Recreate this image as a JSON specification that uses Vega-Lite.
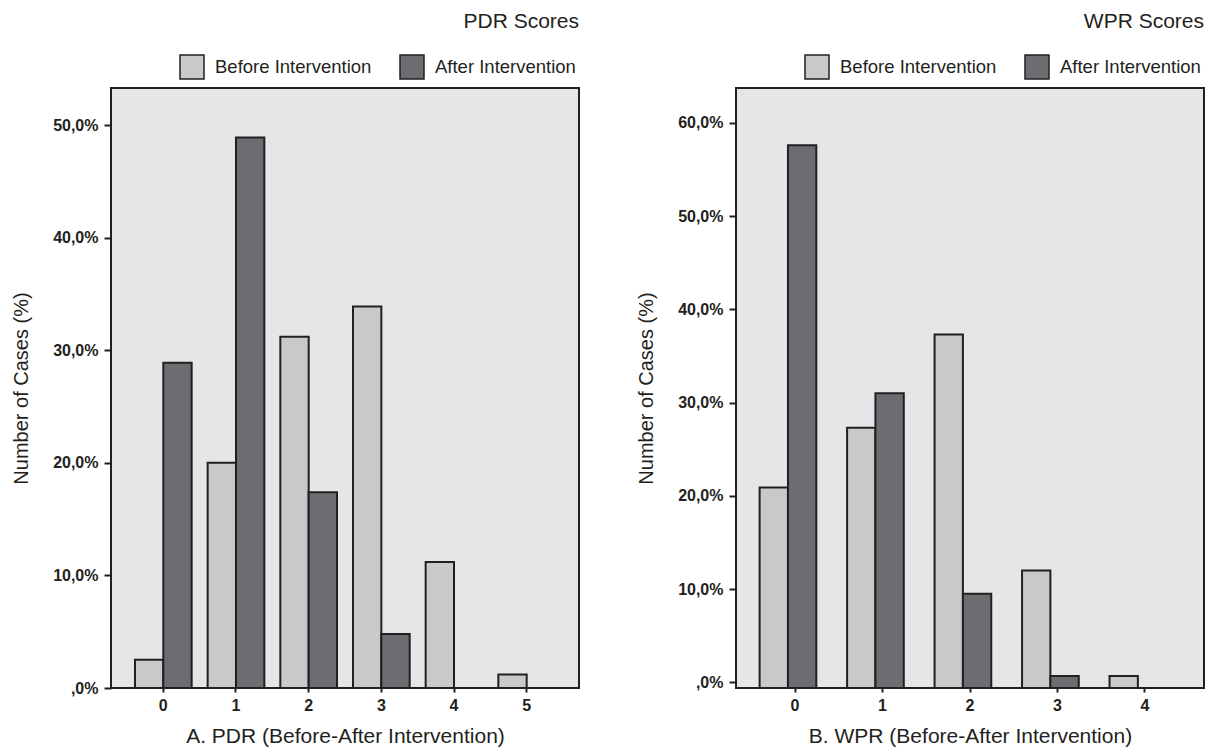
{
  "$schema": "https://vega.github.io/schema/vega-lite/v6.json",
  "padding": {"left": 10, "top": 10, "right": 2, "bottom": 5},
  "spacing": 55,
  "background": "white",
  "datasets": {
    "pdr": [
      {"score": 0, "phase": "Before Intervention", "pct": 2.5},
      {"score": 0, "phase": "After Intervention", "pct": 28.9},
      {"score": 1, "phase": "Before Intervention", "pct": 20.0},
      {"score": 1, "phase": "After Intervention", "pct": 48.9},
      {"score": 2, "phase": "Before Intervention", "pct": 31.2},
      {"score": 2, "phase": "After Intervention", "pct": 17.4},
      {"score": 3, "phase": "Before Intervention", "pct": 33.9},
      {"score": 3, "phase": "After Intervention", "pct": 4.8},
      {"score": 4, "phase": "Before Intervention", "pct": 11.2},
      {"score": 5, "phase": "Before Intervention", "pct": 1.2}
    ],
    "wpr": [
      {"score": 0, "phase": "Before Intervention", "pct": 20.9},
      {"score": 0, "phase": "After Intervention", "pct": 57.6},
      {"score": 1, "phase": "Before Intervention", "pct": 27.3},
      {"score": 1, "phase": "After Intervention", "pct": 31.0},
      {"score": 2, "phase": "Before Intervention", "pct": 37.3},
      {"score": 2, "phase": "After Intervention", "pct": 9.5},
      {"score": 3, "phase": "Before Intervention", "pct": 12.0},
      {"score": 3, "phase": "After Intervention", "pct": 0.7},
      {"score": 4, "phase": "Before Intervention", "pct": 0.7}
    ]
  },
  "config": {
    "font": "Liberation Sans",
    "view": {"fill": "#e5e6e8", "stroke": "#231f20", "strokeWidth": 2},
    "axis": {
      "domain": false,
      "grid": false,
      "tickColor": "#231f20",
      "tickWidth": 2,
      "labelColor": "#231f20",
      "labelFontWeight": "bold",
      "labelFontSize": 16,
      "titleColor": "#231f20",
      "titleFontWeight": "normal",
      "titleFontSize": 20
    },
    "legend": {
      "orient": "none",
      "legendX": 68,
      "legendY": -34,
      "direction": "horizontal",
      "title": null,
      "symbolType": "square",
      "symbolSize": 576,
      "symbolStrokeColor": "#231f20",
      "symbolStrokeWidth": 1.5,
      "symbolOpacity": 1,
      "labelFontSize": 18.5,
      "labelColor": "#231f20",
      "labelOffset": 10,
      "columnPadding": 25
    },
    "title": {"anchor": "end", "fontSize": 21, "fontWeight": "normal", "color": "#231f20", "offset": 22}
  },
  "resolve": {"scale": {"y": "independent", "x": "independent", "color": "independent"}, "legend": {"color": "independent"}},
  "hconcat": [
    {
      "title": "PDR Scores",
      "width": 468,
      "height": 600,
      "data": {"name": "pdr"},
      "mark": {"type": "bar", "stroke": "#231f20", "strokeWidth": 2},
      "encoding": {
        "x": {
          "field": "score", "type": "ordinal",
          "scale": {"paddingInner": 0.22, "paddingOuter": 0.33},
          "axis": {"labelAngle": 0, "tickSize": 4, "labelPadding": 5, "title": "A. PDR (Before-After Intervention)", "titleFontSize": 21, "titlePadding": 12}
        },
        "xOffset": {"field": "phase", "type": "nominal", "sort": ["Before Intervention", "After Intervention"], "scale": {"paddingInner": 0, "paddingOuter": 0}},
        "y": {
          "field": "pct", "type": "quantitative",
          "scale": {"domain": [0, 53.3], "nice": false, "zero": false},
          "axis": {"values": [0, 10, 20, 30, 40, 50], "tickSize": 7, "labelPadding": 6, "title": "Number of Cases (%)", "titlePadding": 21,
                   "labelExpr": "datum.value == 0 ? ',0%' : replace(format(datum.value, '.1f'), '.', ',') + '%'"}
        },
        "color": {
          "field": "phase", "type": "nominal",
          "sort": ["Before Intervention", "After Intervention"],
          "scale": {"domain": ["Before Intervention", "After Intervention"], "range": ["#c8c9cb", "#6c6d71"]}
        }
      }
    },
    {
      "title": "WPR Scores",
      "width": 468,
      "height": 600,
      "data": {"name": "wpr"},
      "mark": {"type": "bar", "stroke": "#231f20", "strokeWidth": 2},
      "encoding": {
        "x": {
          "field": "score", "type": "ordinal",
          "scale": {"paddingInner": 0.19, "paddingOuter": 0.27},
          "axis": {"labelAngle": 0, "tickSize": 4, "labelPadding": 5, "title": "B. WPR (Before-After Intervention)", "titleFontSize": 21, "titlePadding": 12}
        },
        "xOffset": {"field": "phase", "type": "nominal", "sort": ["Before Intervention", "After Intervention"], "scale": {"paddingInner": 0, "paddingOuter": 0}},
        "y": {
          "field": "pct", "type": "quantitative",
          "scale": {"domain": [-0.6, 63.75], "nice": false, "zero": false},
          "axis": {"values": [0, 10, 20, 30, 40, 50, 60], "tickSize": 7, "labelPadding": 6, "title": "Number of Cases (%)", "titlePadding": 21,
                   "labelExpr": "datum.value == 0 ? ',0%' : replace(format(datum.value, '.1f'), '.', ',') + '%'"}
        },
        "y2": {"datum": -0.6},
        "color": {
          "field": "phase", "type": "nominal",
          "sort": ["Before Intervention", "After Intervention"],
          "scale": {"domain": ["Before Intervention", "After Intervention"], "range": ["#c8c9cb", "#6c6d71"]}
        }
      }
    }
  ]
}
